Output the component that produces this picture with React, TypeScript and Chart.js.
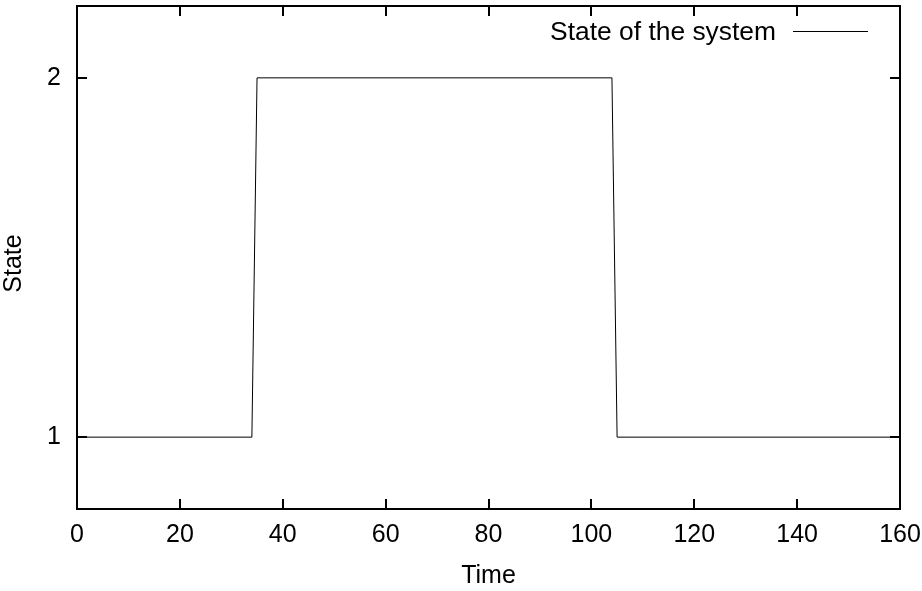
import React, { useEffect, useRef } from "react";
import { Chart, registerables } from "chart.js";

Chart.register(...registerables);

// ---- data ----
const timeValues = [0, 34, 35, 104, 105, 160];
const stateValues = [1, 1, 2, 2, 1, 1];
const xTickValues = [0, 20, 40, 60, 80, 100, 120, 140, 160];
const yTickValues = [1, 2];
const seriesLabel = "State of the system";
const xTitle = "Time";
const yTitle = "State";

const FONT = "'Liberation Sans', Arial, Helvetica, sans-serif";
const FONT_SIZE = 25;

const gnuFrame = {
  id: "gnuFrame",
  afterDatasetsDraw(chart: any) {
    const { ctx, chartArea, scales } = chart;
    const { left, right, top, bottom } = chartArea;
    const xs = scales.x;
    const ys = scales.y;
    ctx.save();
    ctx.strokeStyle = "#000";
    ctx.lineWidth = 2;
    ctx.strokeRect(left, top, right - left, bottom - top);
    ctx.beginPath();
    const tl = 10;
    xs.ticks.forEach((t: any) => {
      const px = Math.round(xs.getPixelForValue(t.value));
      ctx.moveTo(px, bottom);
      ctx.lineTo(px, bottom - tl);
      ctx.moveTo(px, top);
      ctx.lineTo(px, top + tl);
    });
    ys.ticks.forEach((t: any) => {
      const py = Math.round(ys.getPixelForValue(t.value));
      ctx.moveTo(left, py);
      ctx.lineTo(left + tl, py);
      ctx.moveTo(right, py);
      ctx.lineTo(right - tl, py);
    });
    ctx.stroke();

    // gnuplot-style key: text then line sample
    const ds = chart.data.datasets[0];
    ctx.font = `26.4px ${FONT}`;
    ctx.fillStyle = "#000";
    ctx.textAlign = "right";
    ctx.textBaseline = "middle";
    ctx.fillText(ds.label, right - 124, top + 27);
    ctx.beginPath();
    ctx.lineWidth = 1;
    ctx.moveTo(right - 107, top + 25.5);
    ctx.lineTo(right - 32, top + 25.5);
    ctx.stroke();

    // y axis title (gnuplot places it slightly below the centre)
    ctx.font = `${FONT_SIZE}px ${FONT}`;
    ctx.save();
    ctx.translate(14, (top + bottom) / 2 + 6);
    ctx.rotate(-Math.PI / 2);
    ctx.textAlign = "center";
    ctx.textBaseline = "middle";
    ctx.fillText(yTitle, 0, 0);
    ctx.restore();

    ctx.restore();
  },
};

const zeroPad = (s: any) => {
  s.paddingTop = 0;
  s.paddingBottom = 0;
  s.paddingLeft = 0;
  s.paddingRight = 0;
};

export default function App() {
  const ref = useRef<HTMLCanvasElement | null>(null);

  useEffect(() => {
    document.body.style.margin = "0";
    const canvas = ref.current;
    if (!canvas) return;
    const chart = new Chart(canvas, {
      type: "line",
      data: {
        datasets: [
          {
            label: seriesLabel,
            data: timeValues.map((t, i) => ({ x: t, y: stateValues[i] })),
            borderColor: "#000",
            borderWidth: 1,
            pointRadius: 0,
            tension: 0,
            fill: false,
          },
        ],
      },
      options: {
        responsive: false,
        animation: false,
        layout: { padding: { top: 6, right: 22, left: 0, bottom: 0 } },
        plugins: {
          legend: { display: false },
          tooltip: { enabled: false },
        },
        scales: {
          x: {
            type: "linear",
            min: 0,
            max: 160,
            afterBuildTicks: (s: any) => {
              s.ticks = xTickValues.map((v) => ({ value: v }));
            },
            afterFit: (s: any) => {
              s.height = 82;
              zeroPad(s);
            },
            grid: { display: false, drawTicks: false },
            border: { display: false },
            ticks: {
              color: "#000",
              padding: 11,
              maxRotation: 0,
              font: { family: FONT, size: FONT_SIZE },
            },
            title: {
              display: true,
              text: xTitle,
              color: "#000",
              padding: 0,
              font: { family: FONT, size: FONT_SIZE },
            },
          },
          y: {
            type: "linear",
            min: 0.8,
            max: 2.2,
            afterBuildTicks: (s: any) => {
              s.ticks = yTickValues.map((v) => ({ value: v }));
            },
            afterFit: (s: any) => {
              s.width = 77;
              zeroPad(s);
            },
            grid: { display: false, drawTicks: false },
            border: { display: false },
            ticks: {
              color: "#000",
              padding: 16,
              font: { family: FONT, size: FONT_SIZE },
              callback: (v: any) => String(v),
            },
            title: { display: false },
          },
        },
      },
      plugins: [gnuFrame],
    });
    return () => chart.destroy();
  }, []);

  return <canvas ref={ref} width={922} height={591} style={{ display: "block" }} />;
}
